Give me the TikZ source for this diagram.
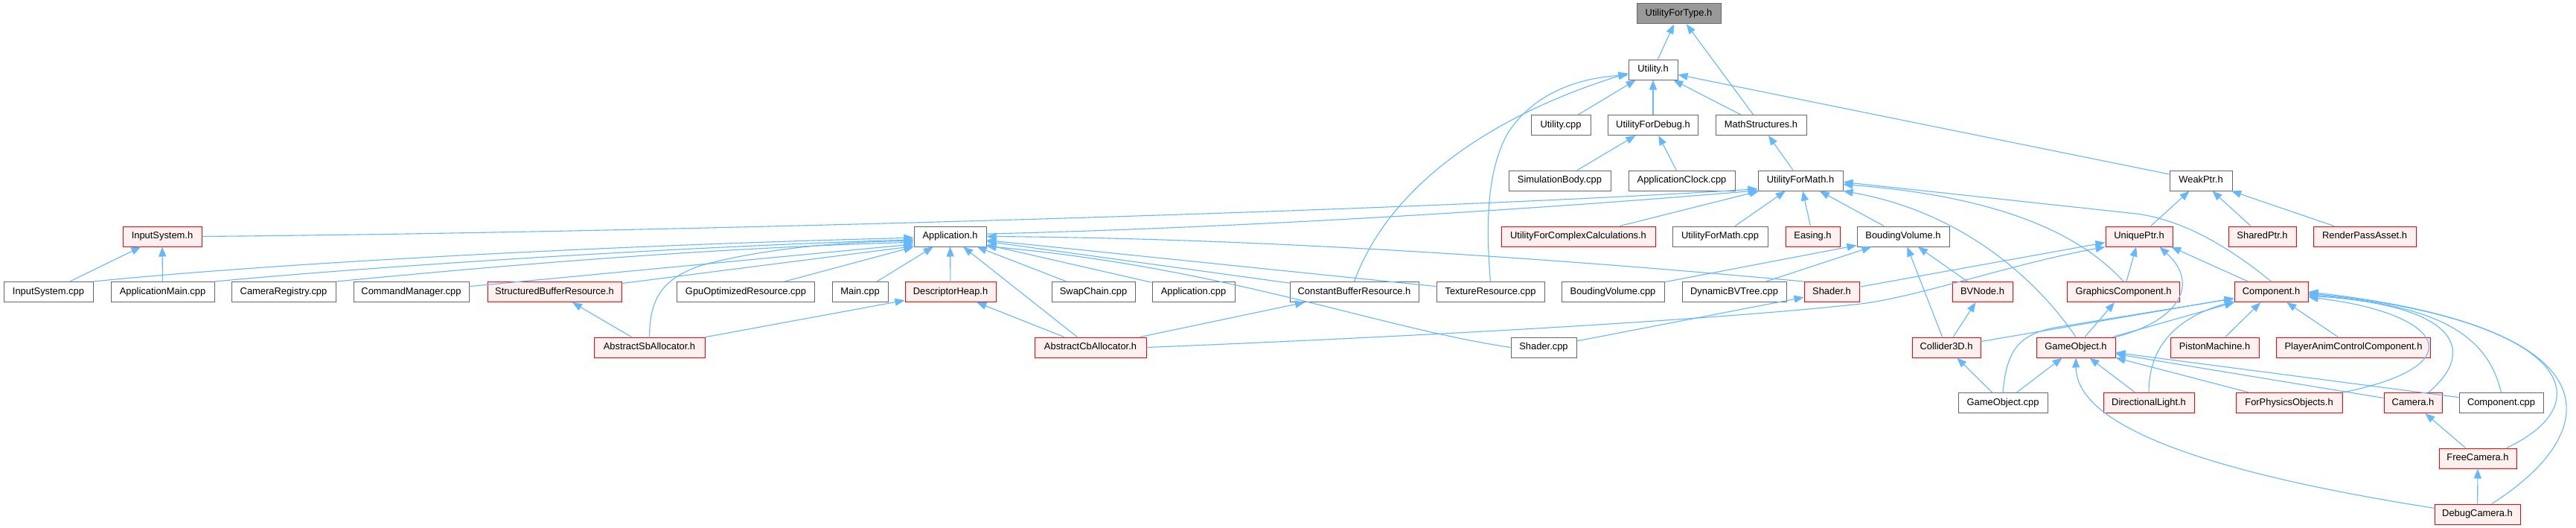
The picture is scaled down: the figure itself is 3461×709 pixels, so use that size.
\documentclass[tikz,border=0pt]{standalone}
\usepackage{fontspec}
\usetikzlibrary{arrows.meta}
\newfontfamily\lsans{Liberation Sans}
\definecolor{eblue}{HTML}{63B8FF}
\definecolor{ndgray}{HTML}{666666}
\definecolor{rootfill}{HTML}{999999}
\definecolor{pinkbg}{HTML}{FFF0F0}
\definecolor{redline}{HTML}{FF0000}
\tikzset{
  nd/.style={draw=ndgray, fill=white, line width=1pt, minimum height=27pt,
    inner xsep=2pt, inner ysep=0pt, font={\lsans\fontsize{12.9}{14}\selectfont},
    text height=9.4pt, text depth=2.6pt},
  rd/.style={nd, draw=redline, fill=pinkbg},
  rootnd/.style={nd, draw=ndgray, fill=rootfill},
  dep/.style={draw=eblue, line width=1.1pt, -{Triangle[length=13pt,width=10pt]}}
}
\begin{document}
\begin{tikzpicture}[x=1pt,y=-1pt]
\fill[white] (0,0) rectangle (3461,709);
\useasboundingbox (0,0) rectangle (3461,709);
% row 0-3
\node[rootnd, minimum width=113pt] (uft) at (2255.5,18.5) {UtilityForType.h};
\node[nd, minimum width=66pt] (util) at (2221,93.5) {Utility.h};
\node[nd, minimum width=80pt] (utilcpp) at (2097,168) {Utility.cpp};
\node[nd, minimum width=121pt] (ufdbg) at (2221,168) {UtilityForDebug.h};
\node[nd, minimum width=122pt] (mstr) at (2366,168) {MathStructures.h};
\node[nd, minimum width=137pt] (simb) at (2095.5,242.5) {SimulationBody.cpp};
\node[nd, minimum width=143pt] (aclk) at (2259.5,242.5) {ApplicationClock.cpp};
\node[nd, minimum width=114pt] (ufm) at (2419,242.5) {UtilityForMath.h};
\node[nd, minimum width=84pt] (weak) at (2957,242.5) {WeakPtr.h};
% row 4
\node[rd, minimum width=106pt] (inh) at (218,317.5) {InputSystem.h};
\node[nd, minimum width=97pt] (apph) at (1276.5,317.5) {Application.h};
\node[rd, minimum width=207pt] (ufcc) at (2120.5,317.5) {UtilityForComplexCalculations.h};
\node[nd, minimum width=128pt] (ufmcpp) at (2311,317.5) {UtilityForMath.cpp};
\node[rd, minimum width=73pt] (easing) at (2435.5,317.5) {Easing.h};
\node[nd, minimum width=124pt] (bvh) at (2557,317.5) {BoudingVolume.h};
\node[rd, minimum width=90pt] (uniq) at (2874,317.5) {UniquePtr.h};
\node[rd, minimum width=91pt] (shared) at (3039.5,317.5) {SharedPtr.h};
\node[rd, minimum width=138pt] (rpa) at (3177,317.5) {RenderPassAsset.h};
% row 5
\node[nd, minimum width=120pt] (incpp) at (65,392) {InputSystem.cpp};
\node[nd, minimum width=139pt] (amain) at (218.5,392) {ApplicationMain.cpp};
\node[nd, minimum width=140pt] (camreg) at (381,392) {CameraRegistry.cpp};
\node[nd, minimum width=155pt] (cmdm) at (552.5,392) {CommandManager.cpp};
\node[rd, minimum width=180pt] (sbr) at (745,392) {StructuredBufferResource.h};
\node[nd, minimum width=185pt] (gpu) at (1002,392) {GpuOptimizedResource.cpp};
\node[nd, minimum width=75pt] (mainc) at (1155.5,392) {Main.cpp};
\node[rd, minimum width=122pt] (dheap) at (1277,392) {DescriptorHeap.h};
\node[nd, minimum width=112pt] (swap) at (1469,392) {SwapChain.cpp};
\node[nd, minimum width=111pt] (appcpp) at (1603.5,392) {Application.cpp};
\node[nd, minimum width=173pt] (cbr) at (1819.5,392) {ConstantBufferResource.h};
\node[nd, minimum width=145pt] (texr) at (2002.5,392) {TextureResource.cpp};
\node[nd, minimum width=138pt] (bvcpp) at (2167,392) {BoudingVolume.cpp};
\node[nd, minimum width=140pt] (dbvt) at (2330,392) {DynamicBVTree.cpp};
\node[rd, minimum width=74pt] (shh) at (2461,392) {Shader.h};
\node[rd, minimum width=81pt] (bvn) at (2663.5,392) {BVNode.h};
\node[rd, minimum width=151pt] (gcomp) at (2853,392) {GraphicsComponent.h};
\node[rd, minimum width=99pt] (comp) at (3051.5,392) {Component.h};
% row 6
\node[rd, minimum width=149pt] (asb) at (872.5,466.5) {AbstractSbAllocator.h};
\node[rd, minimum width=150pt] (acb) at (1465,466.5) {AbstractCbAllocator.h};
\node[nd, minimum width=88pt] (shcpp) at (2074,466.5) {Shader.cpp};
\node[rd, minimum width=92pt] (col) at (2615,466.5) {Collider3D.h};
\node[rd, minimum width=106pt] (goh) at (2789,466.5) {GameObject.h};
\node[rd, minimum width=119pt] (piston) at (2975.5,466.5) {PistonMachine.h};
\node[rd, minimum width=207pt] (pac) at (3162,466.5) {PlayerAnimControlComponent.h};
% row 7-9
\node[nd, minimum width=120pt] (gocpp) at (2691,541) {GameObject.cpp};
\node[rd, minimum width=122pt] (dlight) at (2887,541) {DirectionalLight.h};
\node[rd, minimum width=143pt] (fpo) at (3075.5,541) {ForPhysicsObjects.h};
\node[rd, minimum width=78pt] (cam) at (3242,541) {Camera.h};
\node[nd, minimum width=113pt] (compcpp) at (3360.5,541) {Component.cpp};
\node[rd, minimum width=104pt] (fcam) at (3329,615.5) {FreeCamera.h};
\node[rd, minimum width=115pt] (dcam) at (3328.5,690.5) {DebugCamera.h};

% ---- edges ----
\draw[dep] (util) -- (uft);
\draw[dep] (mstr) -- (uft);
\draw[dep] (utilcpp) -- (util);
\draw[dep] (ufdbg) -- (util);
\draw[dep] (mstr) -- (util);
\draw[dep] (weak) -- (util);
\draw[dep] (cbr.north) .. controls (1870,240) and (2020,150) .. (util.188);
\draw[dep] (texr.north) .. controls (1996,300) and (1998,230) .. (2025,180) .. controls (2060,125) and (2120,105) .. (util.192);
\draw[dep] (simb) -- (ufdbg);
\draw[dep] (aclk) -- (ufdbg);
\draw[dep] (ufm) -- (mstr);
\draw[dep] (uniq) -- (weak);
\draw[dep] (shared) -- (weak);
\draw[dep] (rpa) -- (weak);
\draw[dep] (incpp) -- (inh);
\draw[dep] (amain) -- (inh);
\draw[dep] (inh.east) .. controls (900,312) and (1900,283) .. (ufm.191);
\draw[dep] (apph.4) .. controls (1700,305) and (2100,278) .. (ufm.193);
\draw[dep] (ufcc) -- (ufm);
\draw[dep] (ufmcpp) -- (ufm);
\draw[dep] (easing) -- (ufm);
\draw[dep] (bvh) -- (ufm);
\draw[dep] (goh.north) .. controls (2740,380) and (2640,285) .. (ufm.south east);
\draw[dep] (gcomp.north) .. controls (2800,320) and (2700,265) .. (ufm.355);
\draw[dep] (comp.north) .. controls (3005,340) and (2940,296) .. (2870,287) -- (ufm.358);
% Application.h
\draw[dep] (incpp.north east) .. controls (350,355) and (800,330) .. (apph.182);
\draw[dep] (amain.north east) .. controls (500,358) and (900,332) .. (apph.185);
\draw[dep] (camreg.north east) .. controls (600,364) and (900,335) .. (apph.189);
\draw[dep] (cmdm) -- (apph.192);
\draw[dep] (sbr) -- (apph.195);
\draw[dep] (asb.north) .. controls (873,400) and (890,375) .. (940,357) .. controls (1000,340) and (1100,325) .. (apph.187);
\draw[dep] (gpu) -- (apph.south west);
\draw[dep] (mainc) -- (apph);
\draw[dep] (dheap) -- (apph);
\draw[dep] (acb) -- (apph);
\draw[dep] (swap) -- (apph);
\draw[dep] (appcpp) -- (apph);
\draw[dep] (cbr) -- (apph);
\draw[dep] (texr) -- (apph);
\draw[dep] (shcpp.west) .. controls (1850,440) and (1650,360) .. (apph.345);
\draw[dep] (shh.north west) .. controls (2100,348) and (1700,320) .. (apph.east);
% allocators
\draw[dep] (asb) -- (dheap);
\draw[dep] (acb) -- (dheap);
\draw[dep] (asb) -- (sbr);
\draw[dep] (acb) -- (cbr);
\draw[dep] (acb.east) .. controls (1900,452) and (2300,430) .. (2500,408) .. controls (2580,398) and (2700,355) .. (uniq.south west);
\draw[dep] (shh) -- (uniq);
\draw[dep] (shcpp) -- (shh);
% bounding volume
\draw[dep] (bvcpp) -- (bvh);
\draw[dep] (dbvt) -- (bvh);
\draw[dep] (bvn) -- (bvh);
\draw[dep] (col) -- (bvh);
\draw[dep] (col) -- (bvn);
\draw[dep] (col) -- (comp);
\draw[dep] (gocpp) -- (col);
\draw[dep] (gocpp) -- (goh);
\draw[dep] (gocpp.north) .. controls (2696,470) and (2712,450) .. (2760,440) -- (comp.190);
\draw[dep] (goh) -- (comp);
\draw[dep] (goh.north east) .. controls (2930,430) and (2955,380) .. (uniq.-27);
\draw[dep] (goh) -- (gcomp);
\draw[dep] (gcomp) -- (uniq);
\draw[dep] (comp) -- (uniq.-18);
\draw[dep] (dlight) -- (goh);
\draw[dep] (dlight.north) .. controls (2887,460) and (2930,425) .. (comp.194);
\draw[dep] (piston) -- (comp);
\draw[dep] (pac) -- (comp);
\draw[dep] (fpo.north east) .. controls (3330,490) and (3280,420) .. (comp.-8);
\draw[dep] (fpo) -- (goh);
\draw[dep] (cam.34) .. controls (3330,470) and (3300,410) .. (comp.-6);
\draw[dep] (cam) -- (goh);
\draw[dep] (compcpp.north) .. controls (3340,440) and (3260,410) .. (comp.-4);
\draw[dep] (compcpp) -- (goh);
\draw[dep] (fcam) -- (cam);
\draw[dep] (fcam.20) .. controls (3500,540) and (3450,430) .. (comp.-2);
\draw[dep] (dcam) -- (fcam);
\draw[dep] (dcam.36) .. controls (3500,580) and (3520,440) .. (comp.0);
\draw[dep] (dcam.172) .. controls (3000,640) and (2790,580) .. (goh.south);
\end{tikzpicture}
\end{document}
